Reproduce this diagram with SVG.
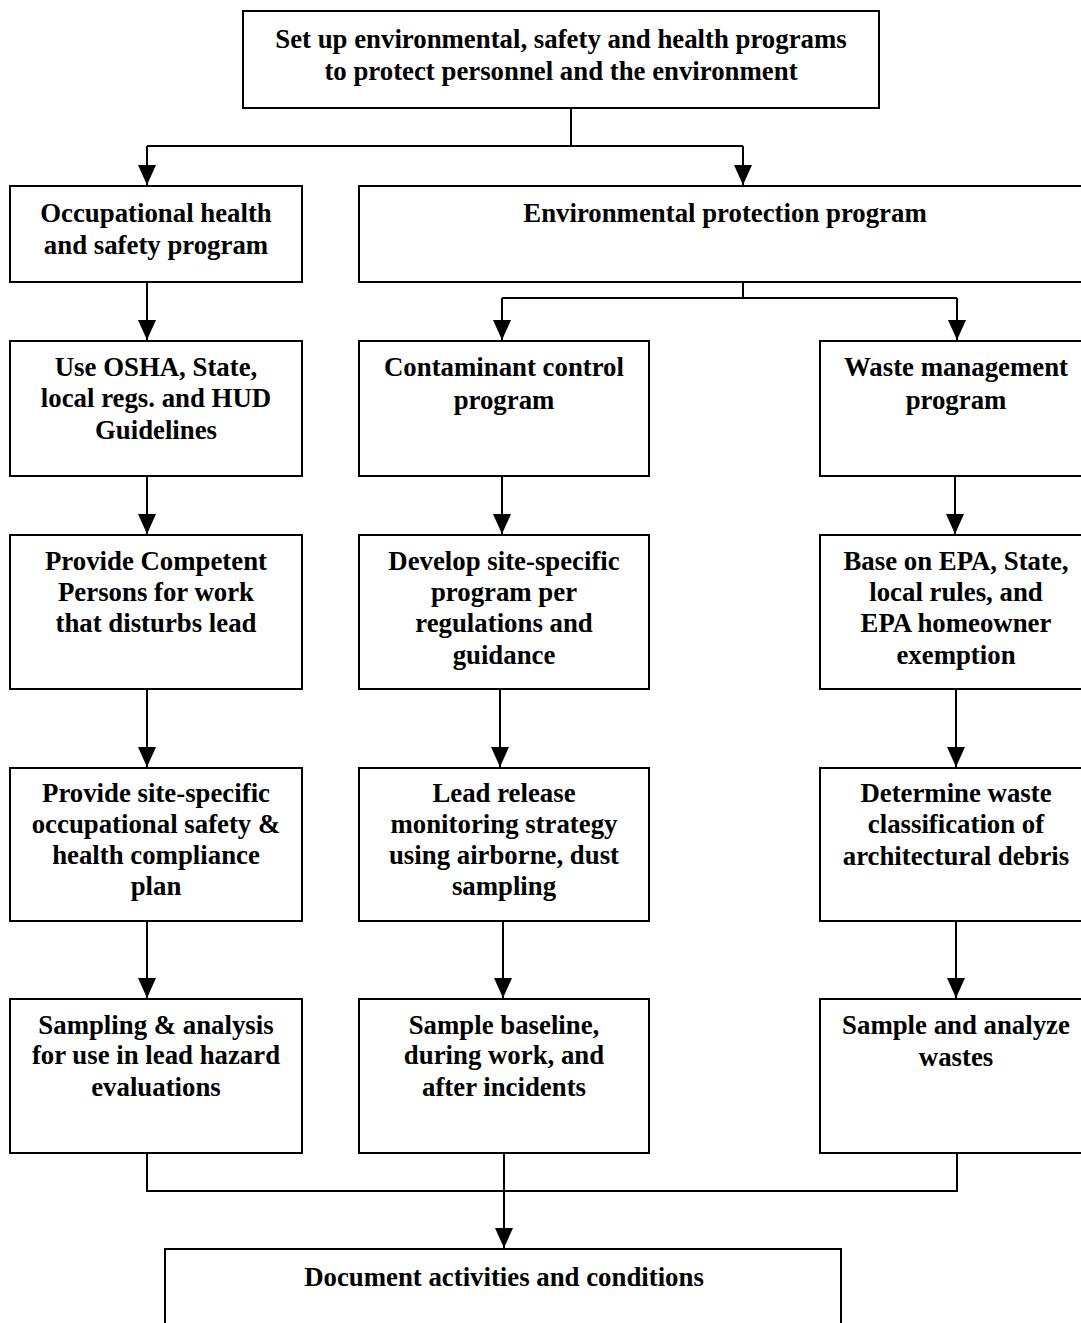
<svg xmlns="http://www.w3.org/2000/svg" width="1081" height="1323" viewBox="0 0 1081 1323">
  <style>
    .box { fill: #ffffff; stroke: #000000; stroke-width: 2; }
    .lbl { font-family: "Liberation Serif", "Times New Roman", serif; font-weight: bold; font-size: 26.8px; fill: #000000; text-anchor: middle; }
    .wire { fill: none; stroke: #000000; stroke-width: 2; }
  </style>
  <defs>
    <!-- filled triangular arrowhead, tip at the end of the line -->
    <marker id="arrow" viewBox="0 0 20 18" refX="20" refY="9" markerWidth="20" markerHeight="18" markerUnits="userSpaceOnUse" orient="auto">
      <path d="M0,0 L20,9 L0,18 Z" fill="#000000"/>
    </marker>
  </defs>
  <rect width="1081" height="1323" fill="#ffffff"/>

  <g id="connectors">
    <!-- top split -->
    <line class="wire" x1="571" y1="108" x2="571" y2="146"/>
    <line class="wire" x1="147" y1="146" x2="743" y2="146"/>
    <line class="wire" x1="147" y1="146" x2="147" y2="185" marker-end="url(#arrow)"/>
    <line class="wire" x1="743" y1="146" x2="743" y2="185" marker-end="url(#arrow)"/>
    <!-- environmental split -->
    <line class="wire" x1="743" y1="282" x2="743" y2="298"/>
    <line class="wire" x1="502" y1="298" x2="957" y2="298"/>
    <line class="wire" x1="502" y1="298" x2="502" y2="340" marker-end="url(#arrow)"/>
    <line class="wire" x1="957" y1="298" x2="957" y2="340" marker-end="url(#arrow)"/>
    <!-- left column -->
    <line class="wire" x1="147" y1="282" x2="147" y2="340" marker-end="url(#arrow)"/>
    <line class="wire" x1="147" y1="476" x2="147" y2="534" marker-end="url(#arrow)"/>
    <line class="wire" x1="147" y1="689" x2="147" y2="767" marker-end="url(#arrow)"/>
    <line class="wire" x1="147" y1="921" x2="147" y2="998" marker-end="url(#arrow)"/>
    <!-- middle column -->
    <line class="wire" x1="502" y1="476" x2="502" y2="534" marker-end="url(#arrow)"/>
    <line class="wire" x1="500" y1="689" x2="500" y2="767" marker-end="url(#arrow)"/>
    <line class="wire" x1="503" y1="921" x2="503" y2="998" marker-end="url(#arrow)"/>
    <!-- right column -->
    <line class="wire" x1="955" y1="476" x2="955" y2="534" marker-end="url(#arrow)"/>
    <line class="wire" x1="956" y1="689" x2="956" y2="767" marker-end="url(#arrow)"/>
    <line class="wire" x1="956" y1="921" x2="956" y2="998" marker-end="url(#arrow)"/>
    <!-- merge into documentation -->
    <path class="wire" d="M147,1153 V1191 H957 V1153"/>
    <line class="wire" x1="504" y1="1153" x2="504" y2="1248" marker-end="url(#arrow)"/>
  </g>

  <g id="setup">
    <rect class="box" x="243" y="11" width="636" height="97"/>
    <text class="lbl" x="561" y="48">Set up environmental, safety and health programs</text>
    <text class="lbl" x="561" y="80">to protect personnel and the environment</text>
  </g>

  <g id="occ-health">
    <rect class="box" x="10" y="186" width="292" height="96"/>
    <text class="lbl" x="156" y="222">Occupational health</text>
    <text class="lbl" x="156" y="254">and safety program</text>
  </g>

  <g id="env-protection">
    <rect class="box" x="359" y="186" width="740" height="96"/>
    <text class="lbl" x="725" y="222">Environmental protection program</text>
  </g>

  <g id="osha-regs">
    <rect class="box" x="10" y="341" width="292" height="135"/>
    <text class="lbl" x="156" y="376">Use OSHA, State,</text>
    <text class="lbl" x="156" y="407">local regs. and HUD</text>
    <text class="lbl" x="156" y="439">Guidelines</text>
  </g>

  <g id="contaminant">
    <rect class="box" x="359" y="341" width="290" height="135"/>
    <text class="lbl" x="504" y="376">Contaminant control</text>
    <text class="lbl" x="504" y="409">program</text>
  </g>

  <g id="waste-mgmt">
    <rect class="box" x="820" y="341" width="279" height="135"/>
    <text class="lbl" x="956" y="376">Waste management</text>
    <text class="lbl" x="956" y="409">program</text>
  </g>

  <g id="competent-persons">
    <rect class="box" x="10" y="535" width="292" height="154"/>
    <text class="lbl" x="156" y="570">Provide Competent</text>
    <text class="lbl" x="156" y="601">Persons for work</text>
    <text class="lbl" x="156" y="632">that disturbs lead</text>
  </g>

  <g id="site-program">
    <rect class="box" x="359" y="535" width="290" height="154"/>
    <text class="lbl" x="504" y="570">Develop site-specific</text>
    <text class="lbl" x="504" y="601">program per</text>
    <text class="lbl" x="504" y="632">regulations and</text>
    <text class="lbl" x="504" y="664">guidance</text>
  </g>

  <g id="epa-rules">
    <rect class="box" x="820" y="535" width="279" height="154"/>
    <text class="lbl" x="956" y="570">Base on EPA, State,</text>
    <text class="lbl" x="956" y="601">local rules, and</text>
    <text class="lbl" x="956" y="632">EPA homeowner</text>
    <text class="lbl" x="956" y="664">exemption</text>
  </g>

  <g id="compliance-plan">
    <rect class="box" x="10" y="768" width="292" height="153"/>
    <text class="lbl" x="156" y="802">Provide site-specific</text>
    <text class="lbl" x="156" y="833">occupational safety &amp;</text>
    <text class="lbl" x="156" y="864">health compliance</text>
    <text class="lbl" x="156" y="895">plan</text>
  </g>

  <g id="release-monitoring">
    <rect class="box" x="359" y="768" width="290" height="153"/>
    <text class="lbl" x="504" y="802">Lead release</text>
    <text class="lbl" x="504" y="833">monitoring strategy</text>
    <text class="lbl" x="504" y="864">using airborne, dust</text>
    <text class="lbl" x="504" y="895">sampling</text>
  </g>

  <g id="waste-class">
    <rect class="box" x="820" y="768" width="279" height="153"/>
    <text class="lbl" x="956" y="802">Determine waste</text>
    <text class="lbl" x="956" y="833">classification of</text>
    <text class="lbl" x="956" y="865">architectural debris</text>
  </g>

  <g id="hazard-sampling">
    <rect class="box" x="10" y="999" width="292" height="154"/>
    <text class="lbl" x="156" y="1034">Sampling &amp; analysis</text>
    <text class="lbl" x="156" y="1064">for use in lead hazard</text>
    <text class="lbl" x="156" y="1096">evaluations</text>
  </g>

  <g id="baseline-sampling">
    <rect class="box" x="359" y="999" width="290" height="154"/>
    <text class="lbl" x="504" y="1034">Sample baseline,</text>
    <text class="lbl" x="504" y="1064">during work, and</text>
    <text class="lbl" x="504" y="1096">after incidents</text>
  </g>

  <g id="waste-sampling">
    <rect class="box" x="820" y="999" width="279" height="154"/>
    <text class="lbl" x="956" y="1034">Sample and analyze</text>
    <text class="lbl" x="956" y="1066">wastes</text>
  </g>

  <g id="documentation">
    <rect class="box" x="165" y="1249" width="676" height="100"/>
    <text class="lbl" x="504" y="1286">Document activities and conditions</text>
  </g>
</svg>
